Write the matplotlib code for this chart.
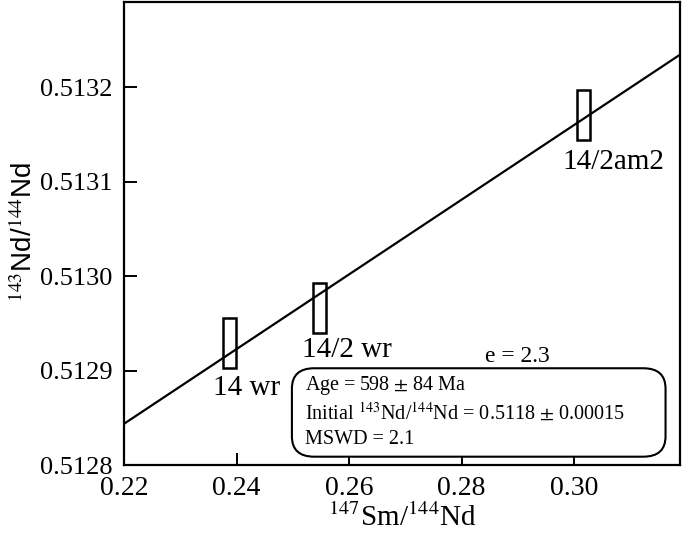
import numpy as np
import matplotlib
matplotlib.use("Agg")
import matplotlib.pyplot as plt
from matplotlib.patches import Rectangle, FancyBboxPatch

plt.rcParams['font.family'] = ['Liberation Serif', 'DejaVu Serif']
plt.rcParams['mathtext.fontset'] = 'stix'

# sample data: 147Sm/144Nd, 143Nd/144Nd and 2-sigma half widths
samples = ['14 wr', '14/2 wr', '14/2am2']
sm_nd = [0.2388, 0.2547, 0.3016]
nd_nd = [0.512929, 0.512966, 0.513170]
sm_err = [0.00118, 0.00118, 0.00118]
nd_err = [0.0000265, 0.0000265, 0.0000265]

x_ticks = [0.22, 0.24, 0.26, 0.28, 0.30]
y_ticks = [0.5128, 0.5129, 0.5130, 0.5131, 0.5132]

fig = plt.figure(figsize=(6.85, 5.43), dpi=100)
ax = fig.add_axes([0.181, 0.1436, 0.8117, 0.8527])

# error boxes
for x, y, ex, ey in zip(sm_nd, nd_nd, sm_err, nd_err):
    ax.add_patch(Rectangle((x - ex, y - ey), 2 * ex, 2 * ey,
                           fill=False, edgecolor='black', lw=1.8, zorder=3))

# isochron line
slope, icpt = np.polyfit(sm_nd, nd_nd, 1)
xl = np.array([0.22, 0.3188])
ax.plot(xl, slope * xl + icpt, color='black', lw=1.6, zorder=2)

# sample labels
ax.text(0.2417, 0.512882, samples[0], ha='center', va='center', fontsize=21)
ax.text(0.2596, 0.512922, samples[1], ha='center', va='center', fontsize=21)
ax.text(0.3070, 0.513121, samples[2], ha='center', va='center', fontsize=21)
ax.text(0.2899, 0.512915, 'e = 2.3', ha='center', va='center', fontsize=17)

# stats box
box = FancyBboxPatch((0.302, 0.018), 0.672, 0.191, transform=ax.transAxes,
                     boxstyle='round,pad=0.0,rounding_size=0.04',
                     facecolor='white', edgecolor='black', lw=1.5, zorder=4,
                     mutation_aspect=1.1)
ax.add_patch(box)
stats = ['Age = 598 $\\pm$ 84 Ma',
         'Initial $^{143}$Nd/$^{144}$Nd = 0.5118 $\\pm$ 0.00015',
         'MSWD = 2.1']
for i, s in enumerate(stats):
    ax.text(0.326, 0.171 - i * 0.058, s, transform=ax.transAxes,
            ha='left', va='center', fontsize=14.5, zorder=5)

ax.set_xlim(0.22, 0.3188)
ax.set_ylim(0.5128, 0.51329)
ax.set_xticks(x_ticks)
ax.set_xticklabels(['0.22', '0.24', '0.26', '0.28', '0.30'])
ax.set_yticks(y_ticks)
ax.set_yticklabels(['0.5128', '0.5129', '0.5130', '0.5131', '0.5132'])
ax.tick_params(direction='in', length=9, width=1.4, pad=8)
ax.tick_params(axis='x', labelsize=20)
ax.tick_params(axis='y', labelsize=19)
for sp in ax.spines.values():
    sp.set_linewidth(1.6)

ax.set_xlabel('$^{147}$Sm/$^{144}$Nd', fontsize=21, labelpad=2)
ax.set_ylabel('$^{143}$Nd/$^{144}$Nd', fontsize=20,
              family=['Liberation Sans', 'DejaVu Sans'])
ax.yaxis.set_label_coords(-0.154, 0.503)

fig.savefig('out.png', dpi=100)
